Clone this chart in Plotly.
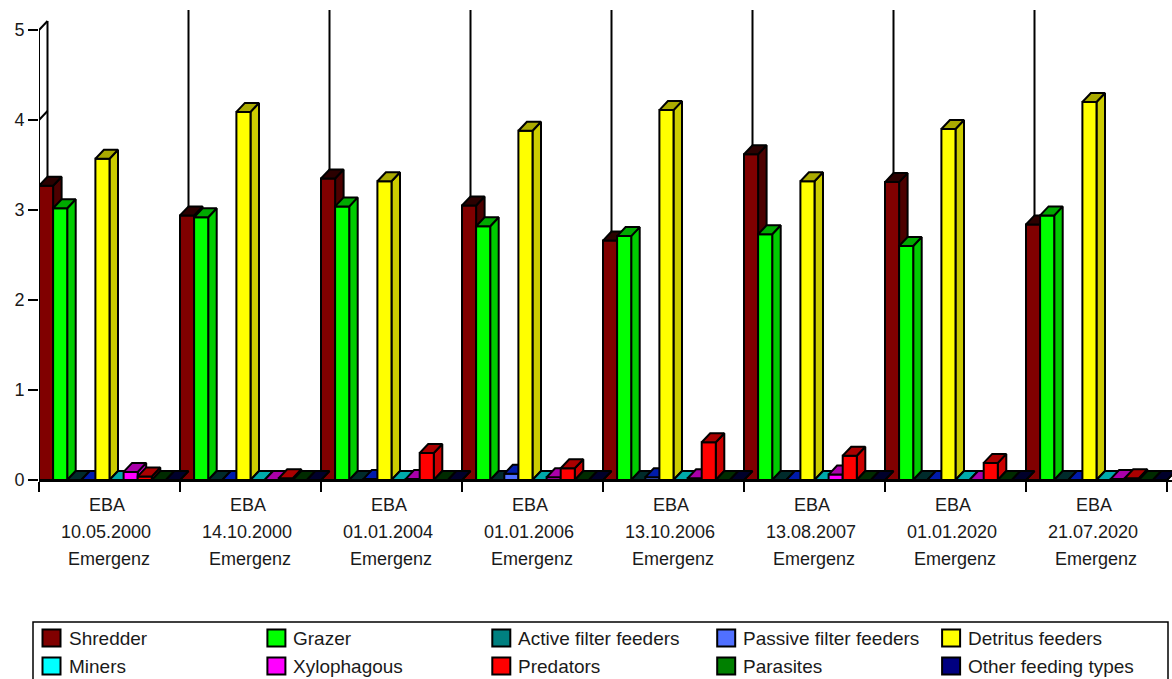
import plotly.graph_objects as go

sites = ["EBA"] * 8
dates = ["10.05.2000", "14.10.2000", "01.01.2004", "01.01.2006",
         "13.10.2006", "13.08.2007", "01.01.2020", "21.07.2020"]
stages = ["Emergenz"] * 8
y_ticks = [0, 1, 2, 3, 4, 5]

shredder = [3.27, 2.94, 3.35, 3.05, 2.66, 3.62, 3.31, 2.84]
grazer = [3.02, 2.92, 3.04, 2.82, 2.71, 2.73, 2.60, 2.94]
active_filter = [0, 0, 0, 0, 0, 0, 0, 0]
passive_filter = [0, 0, 0.01, 0.07, 0.03, 0, 0, 0]
detritus = [3.57, 4.09, 3.32, 3.88, 4.11, 3.32, 3.90, 4.20]
miners = [0, 0, 0, 0, 0, 0, 0, 0]
xylophagous = [0.09, 0, 0.01, 0.03, 0.02, 0.06, 0, 0.01]
predators = [0.04, 0.02, 0.30, 0.13, 0.42, 0.27, 0.19, 0.02]
parasites = [0, 0, 0, 0, 0, 0, 0, 0]
other = [0, 0, 0, 0, 0, 0, 0, 0]

series = [
    ("Shredder", shredder, (128, 0, 0)),
    ("Grazer", grazer, (0, 255, 0)),
    ("Active filter feeders", active_filter, (0, 128, 128)),
    ("Passive filter feeders", passive_filter, (80, 112, 255)),
    ("Detritus feeders", detritus, (255, 255, 0)),
    ("Miners", miners, (0, 255, 255)),
    ("Xylophagous", xylophagous, (255, 0, 255)),
    ("Predators", predators, (255, 0, 0)),
    ("Parasites", parasites, (0, 128, 0)),
    ("Other feeding types", other, (0, 0, 128)),
]

# layout
W, H = 1172, 679
L, B = 39, 199
PLOT_W, PLOT_H = W - L, H - B
PX_GROUP, PX_UNIT = 141.0, 90.0
DX, DY = 8.5 / PX_GROUP, 9 / PX_UNIT
BAR_W = 14.1 / PX_GROUP
LW = 2
FONT = "Liberation Sans, Arial, sans-serif"
TEXT = "#1a1a1a"


def rgb(c, sub=0):
    return "rgb(%d,%d,%d)" % tuple(max(v - sub, 0) for v in c)


def px(p):
    return (p - L) / PLOT_W


def py(p):
    return (PLOT_H - p) / PLOT_H


def line_trace(xs, ys):
    return go.Scatter(x=xs, y=ys, mode="lines", showlegend=False, hoverinfo="skip",
                      cliponaxis=False, line=dict(color="black", width=LW))


def face_trace(xs, ys, color, name):
    return go.Scatter(x=xs, y=ys, mode="lines", fill="toself", fillcolor=color, name=name,
                      showlegend=False, hoverinfo="skip", cliponaxis=False,
                      line=dict(color="black", width=LW))


fig = go.Figure()

# back wall lines behind each group
wall_top = 5 + 20 / PX_UNIT
for g in range(1, len(dates)):
    fig.add_trace(line_trace([g + DX, g + DX], [0, wall_top]))
fig.add_trace(line_trace([DX, DX], [0, 5 + DY]))
fig.add_trace(line_trace([0, 0], [0, 5]))
for t in y_ticks:
    fig.add_trace(line_trace([0, DX], [t, t + DY]))

# 3D bars
for s, (name, values, color) in enumerate(series):
    fx, fy, sx, sy, tx, ty = [], [], [], [], [], []
    for g, v in enumerate(values):
        x0 = g + s * BAR_W
        x1 = x0 + BAR_W
        fx += [x0, x1, x1, x0, x0, None]
        fy += [0, 0, v, v, 0, None]
        sx += [x1, x1 + DX, x1 + DX, x1, x1, None]
        sy += [0, DY, v + DY, v, 0, None]
        tx += [x0, x1, x1 + DX, x0 + DX, x0, None]
        ty += [v, v, v + DY, v + DY, v, None]
    fig.add_trace(face_trace(sx, sy, rgb(color, 51), name))
    fig.add_trace(face_trace(fx, fy, rgb(color), name))
    fig.add_trace(face_trace(tx, ty, rgb(color, 85), name))

# category labels, three rows
annotations = []
for g in range(len(dates)):
    for text, row_y, shift in ((sites[g], 505, -3), (dates[g], 532, -4), (stages[g], 559, -1)):
        annotations.append(dict(x=g + 0.5, xref="x", xshift=shift, y=py(row_y), yref="paper",
                                text=text, showarrow=False, xanchor="center", yanchor="middle",
                                font=dict(family=FONT, size=18, color=TEXT)))

# legend box
shapes = [dict(type="rect", xref="paper", yref="paper", x0=px(33), x1=px(1168), y0=py(622), y1=py(695),
               line=dict(color="black", width=1.5), fillcolor="white", layer="above")]
for i, (name, values, color) in enumerate(series):
    col, row = i % 5, i // 5
    x0 = 42.5 + col * 224.9
    yc = 638 + row * 28
    shapes.append(dict(type="rect", xref="paper", yref="paper", x0=px(x0), x1=px(x0 + 18),
                       y0=py(yc - 8.5), y1=py(yc + 8.5), fillcolor=rgb(color),
                       line=dict(color="black", width=2), layer="above"))
    annotations.append(dict(x=px(x0 + 24), xref="paper", y=py(yc), yref="paper", text=name,
                            showarrow=False, xanchor="left", yanchor="middle",
                            font=dict(family=FONT, size=19, color=TEXT)))

fig.update_layout(
    width=W, height=H, autosize=False,
    margin=dict(l=L, r=0, t=0, b=B, pad=0),
    paper_bgcolor="white", plot_bgcolor="white", showlegend=False,
    annotations=annotations, shapes=shapes,
    xaxis=dict(range=[0, PLOT_W / PX_GROUP], showgrid=False, zeroline=False, showline=True,
               linecolor="black", linewidth=2, showticklabels=False,
               tickvals=list(range(len(dates) + 1)), ticks="outside", ticklen=10,
               tickcolor="black", tickwidth=2),
    yaxis=dict(range=[0, PLOT_H / PX_UNIT], showgrid=False, zeroline=False, showline=False,
               tickvals=y_ticks, ticks="outside", ticklen=10, tickcolor="black", tickwidth=2,
               tickfont=dict(family=FONT, size=18, color=TEXT)),
)

fig.write_html("out.html", config={"displayModeBar": False},
               post_script="document.body.style.margin='0';document.body.style.overflow='hidden';")
